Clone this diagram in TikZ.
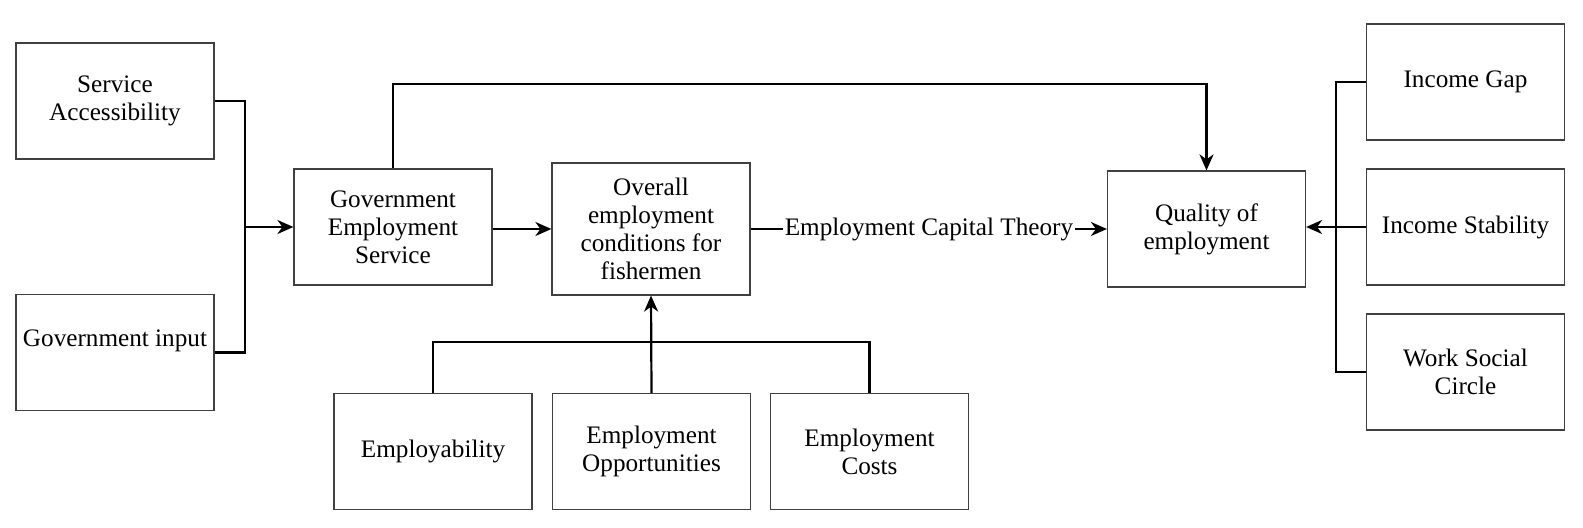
\documentclass[tikz,border=0pt]{standalone}
\usepackage{fontspec}
\setmainfont{Liberation Serif}
\usetikzlibrary{arrows.meta}

\begin{document}
\begin{tikzpicture}[x=0.5pt,y=-0.5pt,
  box/.style={draw=black!75, line width=0.6pt, fill=white, align=center,
    minimum width=99pt, minimum height=58pt, inner sep=1pt,
    font=\fontsize{12.6}{14}\selectfont},
  link/.style={line width=1.1pt},
  arrow/.style={line width=1.1pt, -{Stealth[length=8pt,width=7pt,inset=2.5pt]}}]
\useasboundingbox (0,0) rectangle (1583,528);

\node[box] (sa) at (115,101) {Service\\Accessibility};
\node[box] (gi) at (115,352.5) {Government input\\~};
\node[box] (ges) at (393,227) {Government\\Employment\\Service};
\node[box, minimum height=66pt] (ovr) at (651,229) {Overall\\employment\\conditions for\\fishermen};
\node[box] (qual) at (1206.5,229) {Quality of\\employment};

\node[box] (ig) at (1465.5,82) {Income Gap};
\node[box] (is) at (1465.5,227) {Income Stability};
\node[box] (wsc) at (1465.5,372) {Work Social\\Circle};

\node[box] (emb) at (433,451.5) {Employability};
\node[box] (opp) at (651.5,451.5) {Employment\\Opportunities};
\node[box] (cost) at (869.5,451.5) {Employment\\Costs};

\node[inner sep=0.5pt, font=\fontsize{12.6}{14}\selectfont] (theory) at (929,229) {Employment Capital Theory};

\coordinate (lbus) at (245,227);
\coordinate (rbus) at (1336,227);

\draw[link] (sa.east) -| (lbus) |- (gi.east);
\draw[arrow] (lbus) -- (ges.west);
\draw[arrow] (ges.east |- ovr.west) -- (ovr.west);
\draw[arrow] (ges.north) -- ++(0,-84) -| (qual.north);
\draw[link] (ovr.east) -- (theory.west);
\draw[arrow] (theory.east) -- (qual.west);

\draw[link] (emb.north) -- ++(0,-51) -| (cost.north);
\draw[arrow] (opp.north) -- (ovr.south);

\draw[link] (ig.west) -| (rbus) |- (wsc.west);
\draw[arrow] (is.west) -- (is.west -| qual.east);
\end{tikzpicture}
\end{document}
